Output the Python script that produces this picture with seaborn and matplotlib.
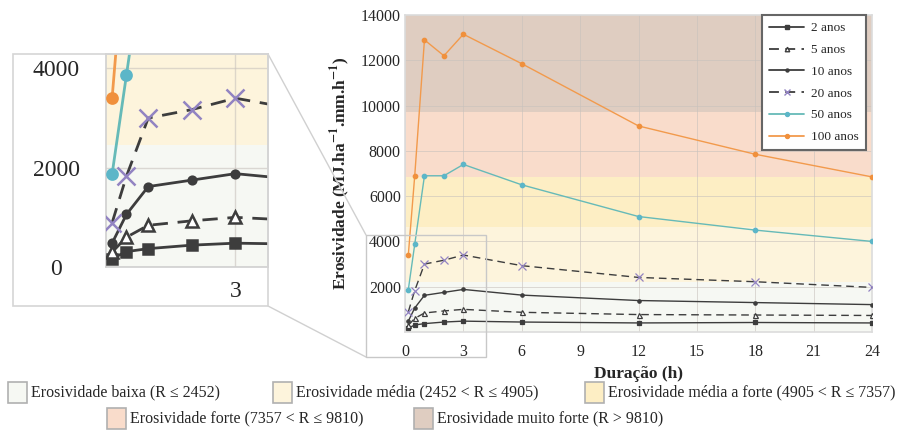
import matplotlib
matplotlib.use("Agg")
import matplotlib.pyplot as plt
from matplotlib.lines import Line2D
from matplotlib.patches import Rectangle
import pandas as pd
import seaborn as sns

# duração (h) e erosividade (MJ.ha-1.mm.h-1) por período de retorno
DURACAO = [0.17, 0.5, 1, 2, 3, 6, 12, 18, 24]
R_2 = [170, 310, 370, 440, 480, 440, 400, 420, 400]
R_5 = [300, 600, 840, 930, 1000, 870, 770, 750, 730]
R_10 = [480, 1060, 1620, 1750, 1880, 1630, 1390, 1300, 1210]
R_20 = [890, 1830, 3000, 3170, 3400, 2930, 2410, 2220, 1970]
R_50 = [1870, 3870, 6900, 6900, 7400, 6500, 5100, 4500, 4000]
R_100 = [3400, 6900, 12900, 12200, 13150, 11850, 9100, 7850, 6850]
SERIES = ["2 anos", "5 anos", "10 anos", "20 anos", "50 anos", "100 anos"]

# classes de erosividade (limites como desenhados no painel principal)
BAND_EDGES = [0, 2200, 4650, 6850, 9700, 14000]
LIMIARES = [2452, 4905, 7357, 9810]
BAND_LABELS = [
    "Erosividade baixa (R ≤ 2452)",
    "Erosividade média (2452 < R ≤ 4905)",
    "Erosividade média a forte (4905 < R ≤ 7357)",
    "Erosividade forte (7357 < R ≤ 9810)",
    "Erosividade muito forte (R > 9810)",
]
BAND_COLORS = ["#f6f8f3", "#fdf4dc", "#fdeec4", "#f9dccb", "#dfcdc1"]

DARK = "#3d3d3d"
STYLES = {
    "2 anos": dict(color=DARK, ls="-", marker="s", mfc=DARK, mec=DARK, ms=3.2),
    "5 anos": dict(color=DARK, ls=(0, (5.5, 3.5)), marker="^", mfc="white", mec=DARK, ms=3.6),
    "10 anos": dict(color=DARK, ls="-", marker="o", mfc=DARK, mec=DARK, ms=2.4),
    "20 anos": dict(color=DARK, ls=(0, (5.5, 3.5)), marker="x", mfc="#9283c2", mec="#9283c2", ms=5.5),
    "50 anos": dict(color="#66bab8", ls="-", marker="o", mfc="#5cb6c8", mec="#5cb6c8", ms=3.2),
    "100 anos": dict(color="#f29a4c", ls="-", marker="o", mfc="#f0903c", mec="#f0903c", ms=3.2),
}

W, H = 901, 441

df = pd.DataFrame({
    "duracao": DURACAO * len(SERIES),
    "R": R_2 + R_5 + R_10 + R_20 + R_50 + R_100,
    "serie": [s for s in SERIES for _ in DURACAO],
})


def fig_rect(x0, y0, x1, y1):
    """pixel box (top-left origin) -> figure fraction [l, b, w, h]"""
    return [x0 / W, 1 - y1 / H, (x1 - x0) / W, (y1 - y0) / H]


def fpt(x, y):
    return x / W, 1 - y / H


def draw_series(ax, scale=1.0, lw=1.0, mew=1.0):
    for s in SERIES:
        st = STYLES[s]
        sub = df[df["serie"] == s]
        sns.lineplot(
            data=sub, x="duracao", y="R", ax=ax, color=st["color"],
            linestyle=st["ls"], linewidth=lw, marker=st["marker"],
            markersize=st["ms"] * scale, markerfacecolor=st["mfc"],
            markeredgecolor=st["mec"], markeredgewidth=mew,
            label=s, legend=False, errorbar=None, zorder=3,
        )


sns.set_style("white")
plt.rcParams["font.family"] = ["Liberation Serif", "DejaVu Serif"]
plt.rcParams["mathtext.fontset"] = "stix"

fig = plt.figure(figsize=(W / 100, H / 100), dpi=100)

# ---- painel principal
ax = fig.add_axes(fig_rect(405, 15, 872, 332))
for lo, hi, c in zip(BAND_EDGES[:-1], BAND_EDGES[1:], BAND_COLORS):
    ax.axhspan(lo, hi, color=c, lw=0, zorder=0)
draw_series(ax, scale=1.0, lw=1.0, mew=0.9)

ax.set_xlim(0, 24)
ax.set_ylim(0, 14000)
ax.set_xticks(range(0, 25, 3))
ax.set_yticks(range(2000, 14001, 2000))
ax.grid(True, color="#c8c2bd", lw=0.7, alpha=0.6)
ax.set_axisbelow(True)
for sp in ax.spines.values():
    sp.set_color("#dcdcdc")
    sp.set_linewidth(1.2)
ax.tick_params(length=0, labelsize=11.5, pad=3)
ax.tick_params(axis="x", pad=9)
ax.set_xlabel("Duração (h)", fontsize=12.5, fontweight="bold", labelpad=4)
ax.set_ylabel(r"Erosividade (MJ.ha$^{\mathbf{-1}}$.mm.h$^{\mathbf{-1}}$)",
              fontsize=12.5, fontweight="bold", labelpad=6)

handles = [
    Line2D([], [], color=STYLES[s]["color"], ls=STYLES[s]["ls"], lw=1.3,
           marker=STYLES[s]["marker"], ms=STYLES[s]["ms"] * 0.9,
           mfc=STYLES[s]["mfc"], mec=STYLES[s]["mec"])
    for s in SERIES
]
leg = ax.legend(handles, SERIES, loc="upper right",
                bbox_to_anchor=((866 - 405) / (872 - 405), 1.0),
                borderaxespad=0, fontsize=9.5, frameon=True, fancybox=False,
                framealpha=1, edgecolor="#666666", handlelength=2.7,
                labelspacing=0.72, borderpad=0.55, handletextpad=0.5)
leg.get_frame().set_linewidth(1.5)
leg.set_zorder(5)

# ---- ampliação (canto superior esquerdo)
axi = fig.add_axes(fig_rect(106, 54, 268, 267))
axi.axhspan(0, LIMIARES[0], color=BAND_COLORS[0], lw=0, zorder=0)
axi.axhspan(LIMIARES[0], 6000, color=BAND_COLORS[1], lw=0, zorder=0)
draw_series(axi, scale=2.3, lw=2.0, mew=1.8)
axi.set_xlim(0.03, 3.75)
axi.set_ylim(0, 4290)
axi.set_xticks([3])
axi.set_yticks([0, 2000, 4000])
axi.set_xlabel("")
axi.set_ylabel("")
axi.grid(True, color="#c8c2bd", lw=1.0, alpha=0.6)
axi.set_axisbelow(True)
for sp in axi.spines.values():
    sp.set_color("#d0d0d0")
    sp.set_linewidth(1.2)
axi.tick_params(length=0, labelsize=17)
axi.tick_params(axis="y", pad=36)
axi.tick_params(axis="x", pad=10)
for lab in axi.get_yticklabels():
    lab.set_horizontalalignment("center")

# moldura da ampliação, retângulo no painel e linhas de ligação
fig.add_artist(Rectangle(fpt(13, 306), 255 / W, 252 / H, transform=fig.transFigure,
                         fill=False, ec="#d5d5d5", lw=1.2, zorder=4))
fig.add_artist(Rectangle(fpt(366, 357), 120 / W, 122 / H, transform=fig.transFigure,
                         fill=False, ec="#c8c8c8", lw=1.0, zorder=4))
for (xa, ya), (xb, yb) in [((268, 54), (366, 235)), ((268, 306), (366, 357))]:
    (fxa, fya), (fxb, fyb) = fpt(xa, ya), fpt(xb, yb)
    fig.add_artist(Line2D([fxa, fxb], [fya, fyb], transform=fig.transFigure,
                          color="#d0d0d0", lw=1.0))

# ---- legenda das classes
legend_pos = [(8, 392), (273, 392), (585, 392), (107, 418), (414, 418)]
for (x, y), lab, c in zip(legend_pos, BAND_LABELS, BAND_COLORS):
    fig.add_artist(Rectangle(fpt(x, y + 10.5), 19 / W, 21 / H, transform=fig.transFigure,
                             fc=c, ec="#b0b0b0", lw=1.2))
    fx, fy = fpt(x + 23, y)
    fig.text(fx, fy, lab, fontsize=11.5, va="center", ha="left")

fig.savefig("out.png", dpi=100)
